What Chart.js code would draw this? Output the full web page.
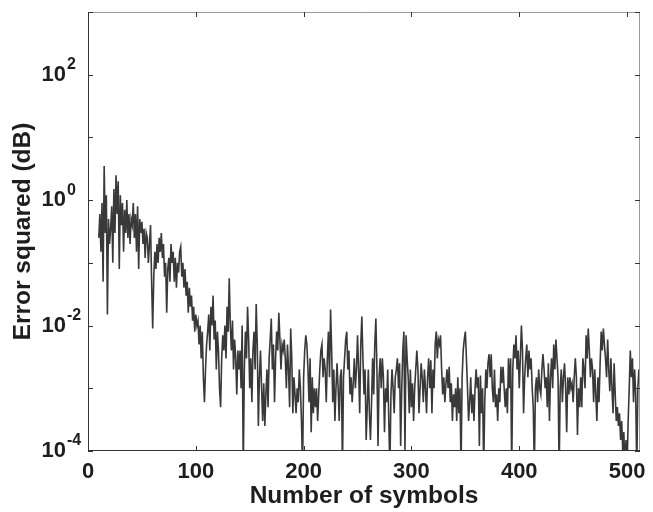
<!DOCTYPE html>
<html><head><meta charset="utf-8">
<script src="https://cdn.jsdelivr.net/npm/chart.js@4/dist/chart.umd.min.js"></script>
<style>html,body{margin:0;padding:0;background:#fff}</style>
</head><body>
<canvas id="c" width="653" height="512"></canvas>
<script>
// ---- data ----
const firstSymbol = 10;           // index of the first plotted symbol
const errorSquared = [
  0.25,0.6,0.15,0.9,0.05,3.5,0.3,1.2,0.015,0.5,0.2,0.35,0.8,0.1,1.5,0.3,2.5,0.6,2.0,0.08,1.2,0.4,0.9,0.15,0.7,0.3,1.0,0.25,0.6,0.2,0.5,
  0.4,0.9,0.25,0.6,0.15,0.8,0.08,0.5,0.3,0.45,
  0.2,0.35,0.12,0.3,0.25,0.1,0.2,0.4,0.05,0.009,
  0.06,0.15,0.08,0.2,0.1,0.25,0.15,0.3,0.12,0.2,
  0.06,0.1,0.016,0.08,0.12,0.05,0.2,0.1,0.15,0.05,
  0.12,0.04,0.1,0.07,0.15,0.18,0.06,0.1,0.04,0.08,
  0.03,0.05,0.016,0.04,0.02,0.03,0.012,0.02,0.008,0.015,
  0.01,0.012,0.005,0.01,0.003,0.008,0.0015,0.0006,0.002,0.005,
  0.008,0.015,0.004,0.02,0.01,0.03,0.006,0.012,0.002,0.008,
  0.004,0.001,0.0005,0.003,0.007,0.004,0.01,0.003,0.02,0.008,
  0.057,0.01,0.004,0.012,0.002,0.006,0.003,0.0008,0.004,0.002,
  4e-3,1e-3,1e-2,5e-5,2e-3,8e-3,3e-3,2e-2,6e-3,1e-3,
  3e-3,6e-4,4e-3,8e-3,2e-3,2.2e-2,5e-3,2.5e-4,1.5e-3,4e-3,
  1e-3,3e-4,1.2e-3,2.5e-4,8e-4,2e-3,5e-4,3e-3,6e-3,1.3e-2,
  2e-3,5e-3,6e-4,3e-3,8e-3,4e-3,1.6e-2,6e-3,2e-3,5e-3,
  4e-3,6e-3,3e-3,1e-3,5e-3,2e-3,5e-4,9e-3,3e-3,4e-4,
  1.5e-3,8e-4,4e-4,1e-3,6e-4,2e-3,1e-3,3e-4,5e-5,1.5e-3,
  4e-3,7e-3,5e-3,2e-3,6e-4,3e-3,2e-4,1.5e-3,4e-4,1e-3,
  5e-4,1e-3,3e-4,8e-4,2e-3,4e-3,5e-3,1.5e-3,3e-3,2e-3,
  6e-4,3e-3,8e-3,1.5e-3,1.8e-2,4e-3,6e-4,2e-3,3e-4,1e-3,
  2.5e-3,1e-3,3e-4,1.5e-3,2e-3,5e-5,1.5e-3,3e-3,6e-3,8e-3,
  2e-3,4e-3,8e-4,1.5e-3,6e-4,1.2e-3,3e-3,1e-3,2e-3,7e-3,
  2e-3,4e-4,5e-3,1.4e-2,3e-3,8e-4,2e-3,1.5e-4,5e-4,2e-3,
  4e-4,1.5e-4,6e-4,3e-3,8e-4,5e-3,1.3e-2,2e-3,1.2e-4,1.5e-3,
  3e-3,1e-3,3e-3,1.5e-3,2e-4,1e-3,6e-4,2e-3,3e-4,5e-5,
  8e-4,2e-3,1e-3,4e-4,1.5e-3,2e-3,3e-3,1e-3,2.5e-3,1.2e-4,
  1e-3,4e-3,8e-3,1e-4,7e-3,3e-3,1.5e-3,4e-4,2e-3,5e-4,
  1.2e-3,3e-4,1e-3,2e-3,4e-3,2e-3,4e-4,1e-3,2.5e-3,1.5e-3,
  6e-4,2e-3,1e-3,4e-4,1.5e-3,3e-3,1e-3,2.8e-3,4e-4,2e-3,
  1e-3,5e-3,8e-3,3e-3,6e-3,5e-3,7e-3,2e-3,8e-4,1.5e-3,
  6e-4,1.2e-3,2e-3,1e-3,2.2e-3,6e-4,1.2e-3,3e-4,8e-4,5e-4,
  1e-3,3e-4,1.5e-3,4e-4,1e-3,5e-5,1.5e-3,4e-3,6e-3,8e-3,
  3e-3,1e-3,3e-4,6e-4,1.5e-3,4e-4,8e-4,3e-4,1e-3,2e-3,
  1e-3,1.5e-3,1.2e-4,1.6e-3,4e-4,1e-3,5e-5,6e-4,2e-3,1e-3,
  2.5e-3,3.5e-3,1.5e-3,3.5e-3,1e-3,6e-4,2e-3,5e-4,8e-4,3e-4,
  1e-3,6e-4,2.2e-3,1.2e-3,2.2e-3,1e-3,5e-4,1e-3,4e-4,3e-3,
  1e-3,3e-3,5e-5,2e-3,5e-3,3e-3,7e-3,2e-3,4e-3,1e-3,
  3e-3,1e-2,4e-3,4e-4,1.5e-3,3e-3,5e-3,1.5e-3,4e-3,2e-3,
  3e-3,1e-3,5e-4,5e-5,1e-3,1.5e-3,6e-4,2e-3,1e-3,8e-4,
  2e-3,3.5e-3,2e-3,1e-3,1.5e-3,5e-4,2.5e-3,3e-4,1.5e-3,3e-3,
  1e-3,5e-3,2e-3,6e-3,3e-3,1.5e-3,5e-5,1e-3,2e-3,6e-4,
  1.5e-3,2.5e-3,1e-3,2e-4,1.5e-3,8e-4,1.5e-3,1e-3,1.2e-3,6e-4,
  1.5e-3,3e-3,1.5e-3,1.8e-4,1e-3,5e-4,1.5e-3,5e-4,3e-3,2e-3,
  1e-3,7e-3,3e-3,9e-3,4e-3,1.5e-3,3e-3,2e-3,6e-4,2e-3,
  8e-4,3e-4,1.5e-3,6e-4,2.5e-3,8e-3,4e-3,9e-3,5e-3,3e-3,
  1.5e-3,6e-3,2e-3,9e-4,3e-3,1e-3,4e-4,2.5e-3,8e-4,3e-4,
  5e-4,2.5e-4,4e-4,1.5e-4,3e-4,1e-4,2e-4,5e-5,1.5e-4,5e-5,
  3e-4,1e-3,4e-3,1.5e-3,3e-3,6e-4,2e-3,8e-4,5e-5,1e-3,2e-3
];
const xTicks = [0, 100, 200, 300, 400, 500];
const yTickExponents = [-4, -2, 0, 2];
const xRange = [0, 512];
const yRange = [1e-4, 1e3];
const xTitle = 'Number of symbols';
const yTitle = 'Error squared (dB)';

const points = errorSquared.map((v, i) => ({ x: firstSymbol + i, y: v }));

const FONT = "'Liberation Sans', Arial, Helvetica, sans-serif";
const INK = '#1e1e1e';

const framePlugin = {
  id: 'frame',
  afterDraw(chart) {
    const { ctx, chartArea: a, scales: { x, y } } = chart;
    ctx.save();
    ctx.lineWidth = 1;
    // top and right edges are faint in the reference
    ctx.strokeStyle = '#9a9a9a';
    ctx.beginPath();
    ctx.moveTo(a.left, a.top + 0.5); ctx.lineTo(a.right - 0.5, a.top + 0.5); ctx.lineTo(a.right - 0.5, a.bottom);
    ctx.stroke();
    ctx.strokeStyle = '#333';
    ctx.beginPath();
    ctx.moveTo(a.left + 0.5, a.top); ctx.lineTo(a.left + 0.5, a.bottom - 0.5); ctx.lineTo(a.right, a.bottom - 0.5);
    ctx.stroke();
    ctx.beginPath();
    for (const t of xTicks) {
      const px = Math.round(x.getPixelForValue(t)) + 0.5;
      ctx.moveTo(px, a.bottom); ctx.lineTo(px, a.bottom - 5);
      ctx.moveTo(px, a.top); ctx.lineTo(px, a.top + 5);
    }
    for (let e = -4; e <= 3; e++) {
      const py = Math.round(y.getPixelForValue(Math.pow(10, e))) + 0.5;
      ctx.moveTo(a.left, py); ctx.lineTo(a.left + 5, py);
      ctx.moveTo(a.right, py); ctx.lineTo(a.right - 5, py);
    }
    ctx.stroke();
    // y tick labels with superscript exponents
    ctx.fillStyle = INK;
    ctx.textBaseline = 'middle';
    for (const e of yTickExponents) {
      const py = y.getPixelForValue(Math.pow(10, e));
      ctx.font = 'bold 22px ' + FONT;
      ctx.textAlign = 'right';
      ctx.fillText('10', 66, py);
      ctx.font = 'bold 16px ' + FONT;
      ctx.textAlign = 'left';
      ctx.fillText(String(e), 67, py - 10);
    }
    ctx.restore();
  }
};

new Chart(document.getElementById('c'), {
  type: 'line',
  data: {
    datasets: [{
      data: points,
      borderColor: 'rgba(30,30,30,0.88)',
      borderWidth: 1.6,
      pointRadius: 0,
      tension: 0,
      fill: false
    }]
  },
  options: {
    responsive: false,
    animation: false,
    events: [],
    layout: { padding: { top: 12, right: 13, left: 0, bottom: 0 } },
    plugins: { legend: { display: false }, tooltip: { enabled: false } },
    scales: {
      x: {
        type: 'linear',
        min: xRange[0], max: xRange[1],
        afterBuildTicks: s => { s.ticks = xTicks.map(v => ({ value: v })); },
        afterFit: s => { s.height = 61; },
        grid: { display: false },
        border: { display: false },
        ticks: { color: INK, font: { family: FONT, size: 22, weight: 'bold' }, padding: 0, maxRotation: 0, autoSkip: false },
        title: { display: true, text: xTitle, color: INK, font: { family: FONT, size: 24.5, weight: 'bold' }, padding: { top: 0, bottom: 1 } }
      },
      y: {
        type: 'logarithmic',
        min: yRange[0], max: yRange[1],
        afterFit: s => { s.width = 88; },
        grid: { display: false },
        border: { display: false },
        ticks: { display: false },
        title: { display: true, text: yTitle, color: INK, font: { family: FONT, size: 24.5, weight: 'bold' }, padding: { top: 9, bottom: 0 } }
      }
    }
  },
  plugins: [framePlugin]
});
</script>
</body></html>
